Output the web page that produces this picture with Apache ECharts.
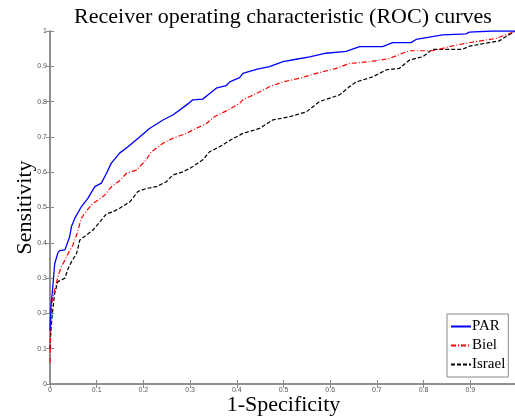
<!DOCTYPE html>
<html>
<head>
<meta charset="utf-8">
<script src="https://cdn.jsdelivr.net/npm/echarts@6/dist/echarts.min.js"></script>
<style>html,body{margin:0;padding:0;background:#fff}#c{width:515px;height:418px}</style>
</head>
<body>
<div id="c"></div>
<script>
var seriesNames = ["PAR", "Biel", "Israel"];
var parX = [0,0.002,0.005,0.01,0.017,0.021,0.032,0.035,0.042,0.046,0.053,0.067,0.081,0.096,0.11,0.121,0.131,0.149,0.167,0.192,0.213,0.242,0.263,0.292,0.306,0.327,0.342,0.356,0.377,0.385,0.406,0.413,0.442,0.47,0.499,0.527,0.556,0.591,0.634,0.663,0.712,0.734,0.773,0.784,0.841,0.891,0.898,0.948,1];
var parY = [0.15,0.22,0.26,0.34,0.372,0.378,0.38,0.384,0.417,0.446,0.469,0.502,0.526,0.559,0.569,0.597,0.625,0.654,0.672,0.70,0.724,0.748,0.762,0.79,0.805,0.807,0.823,0.838,0.845,0.856,0.868,0.88,0.891,0.899,0.913,0.92,0.927,0.937,0.942,0.956,0.956,0.967,0.967,0.976,0.989,0.992,0.997,1,1];
var bielX = [0,0.002,0.005,0.01,0.017,0.024,0.032,0.039,0.049,0.057,0.067,0.078,0.092,0.103,0.117,0.131,0.149,0.164,0.185,0.206,0.217,0.242,0.263,0.292,0.313,0.335,0.352,0.381,0.406,0.413,0.442,0.47,0.499,0.534,0.57,0.613,0.641,0.684,0.727,0.755,0.77,0.819,0.869,0.912,0.955,0.994,1];
var bielY = [0.06,0.2,0.24,0.266,0.304,0.332,0.351,0.37,0.394,0.422,0.469,0.49,0.512,0.521,0.535,0.558,0.576,0.597,0.606,0.635,0.658,0.682,0.696,0.71,0.724,0.738,0.757,0.776,0.795,0.805,0.823,0.842,0.856,0.866,0.88,0.894,0.908,0.913,0.922,0.937,0.944,0.944,0.96,0.97,0.979,0.998,1];
var israelX = [0,0.002,0.005,0.01,0.017,0.032,0.039,0.046,0.057,0.064,0.078,0.092,0.106,0.121,0.135,0.149,0.171,0.188,0.206,0.228,0.249,0.263,0.285,0.306,0.327,0.342,0.363,0.385,0.406,0.413,0.449,0.477,0.513,0.549,0.577,0.62,0.641,0.656,0.691,0.72,0.748,0.77,0.798,0.812,0.819,0.883,0.898,0.94,0.962,0.976,0.994,1];
var israelY = [0.1,0.15,0.2,0.257,0.29,0.3,0.328,0.346,0.37,0.408,0.422,0.436,0.458,0.482,0.488,0.498,0.516,0.545,0.554,0.559,0.573,0.592,0.601,0.616,0.635,0.658,0.672,0.69,0.705,0.71,0.724,0.748,0.757,0.771,0.8,0.819,0.842,0.856,0.87,0.89,0.894,0.918,0.927,0.941,0.948,0.948,0.957,0.967,0.972,0.984,0.998,1];

function zip(xs, ys){ return xs.map(function(x,i){ return [x, ys[i]]; }); }
function fmt(v){ return String(Math.round(v*10)/10); }

var axisColor = '#8a8a8a';
var labelStyle = {color:'#555', fontSize:7, fontFamily:'Liberation Sans, Arial, sans-serif'};
var serif = 'Liberation Serif, Times New Roman, serif';

var chart = echarts.init(document.getElementById('c'), null, {renderer:'canvas'});
chart.setOption({
  backgroundColor:'#fff',
  animation:false,
  title:{text:'Receiver operating characteristic (ROC) curves', left:278, textAlign:'center', top:1,
    textStyle:{fontFamily:serif, fontWeight:'normal', fontSize:22, color:'#000'}},
  grid:{left:50, top:31, width:467, height:353, containLabel:false, outerBoundsMode:'none'},
  legend:{orient:'vertical', left:447, top:314, padding:[5,3,5,3], itemGap:4, itemWidth:20, itemHeight:14,
    backgroundColor:'#fff', borderColor:'#8a8a8a', borderWidth:1,
    itemStyle:{opacity:0},
    textStyle:{fontFamily:serif, fontSize:15, color:'#000', padding:[0,0,0,-4]},
    data:seriesNames},
  xAxis:[{type:'value', min:0, max:1, interval:0.1, position:'bottom',
      name:'1-Specificity', nameLocation:'middle', nameGap:10, nameMoveOverlap:false,
      nameTextStyle:{fontFamily:serif, fontSize:22, color:'#000', verticalAlign:'top'},
      axisLine:{lineStyle:{color:axisColor, width:1.5}},
      axisTick:{inside:true, length:4, lineStyle:{color:axisColor}},
      axisLabel:Object.assign({margin:3, formatter:fmt}, labelStyle),
      splitLine:{show:false}},
    {type:'value', min:0, max:1, interval:0.1, position:'top',
      axisLine:{lineStyle:{color:axisColor, width:1.5}},
      axisTick:{inside:true, length:4, lineStyle:{color:axisColor}},
      axisLabel:{show:false}, splitLine:{show:false}}],
  yAxis:[{type:'value', min:0, max:1, interval:0.1, position:'left',
      name:'Sensitivity', nameLocation:'middle', nameGap:14, nameRotate:90, nameMoveOverlap:false,
      nameTextStyle:{fontFamily:serif, fontSize:22, color:'#000'},
      axisLine:{lineStyle:{color:axisColor, width:1.5}},
      axisTick:{inside:true, length:4, lineStyle:{color:axisColor}},
      axisLabel:Object.assign({margin:3, formatter:fmt}, labelStyle),
      splitLine:{show:false}},
    {type:'value', min:0, max:1, interval:0.1, position:'right',
      axisLine:{lineStyle:{color:axisColor, width:1.5}},
      axisTick:{inside:true, length:4, lineStyle:{color:axisColor}},
      axisLabel:{show:false}, splitLine:{show:false}}],
  series:[
    {name:'PAR', type:'line', data:zip(parX, parY), showSymbol:false, symbol:'none',
      lineStyle:{color:'#0000ff', width:1.3, type:'solid'}, itemStyle:{color:'#0000ff'}, z:3},
    {name:'Biel', type:'line', data:zip(bielX, bielY), showSymbol:false, symbol:'none',
      lineStyle:{color:'#ff0000', width:1.2, type:[5,2,1,2]}, itemStyle:{color:'#ff0000'}, z:2},
    {name:'Israel', type:'line', data:zip(israelX, israelY), showSymbol:false, symbol:'none',
      lineStyle:{color:'#000000', width:1.2, type:[4,2]}, itemStyle:{color:'#000'}, z:1}
  ]
});
</script>
</body>
</html>
